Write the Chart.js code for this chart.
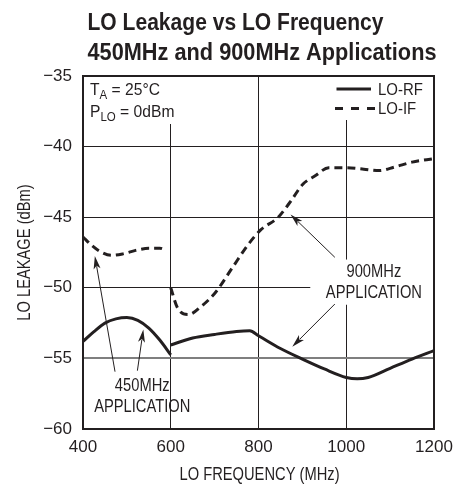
<!DOCTYPE html>
<html>
<head>
<meta charset="utf-8">
<script src="https://cdn.jsdelivr.net/npm/chart.js@4.4.1/dist/chart.umd.min.js"></script>
<style>
  html, body { margin: 0; padding: 0; background: #fff; }
  canvas { display: block; }
</style>
</head>
<body>
<canvas id="myChart" width="468" height="484"></canvas>
<script>
// LO-RF (solid) - 450MHz part and 900MHz part
const rfFreqLow = [400, 425, 450, 475, 500, 525, 550, 575, 600];
const rfLeakLow = [-53.8, -53.1, -52.5, -52.2, -52.1, -52.3, -52.85, -53.7, -54.75];
const rfFreqHigh = [600, 650, 700, 750, 780, 800, 850, 900, 950, 1000, 1025, 1050, 1100, 1150, 1200];
const rfLeakHigh = [-54.05, -53.55, -53.3, -53.1, -53.05, -53.4, -54.3, -55.05, -55.75, -56.35, -56.45, -56.35, -55.7, -55.05, -54.45];

// LO-IF (dashed)
const ifFreqLow = [400, 420, 440, 465, 490, 520, 550, 575, 590];
const ifLeakLow = [-46.4, -47.0, -47.45, -47.7, -47.6, -47.35, -47.2, -47.2, -47.35];
const ifFreqHigh = [600, 615, 640, 670, 700, 740, 775, 805, 845, 875, 900, 930, 960, 1000, 1040, 1075, 1110, 1150, 1200];
const ifLeakHigh = [-50.0, -51.4, -51.9, -51.3, -50.4, -48.6, -47.0, -45.9, -45.0, -43.8, -42.7, -42.05, -41.5, -41.5, -41.6, -41.7, -41.45, -41.1, -40.85];

const xTicks = [400, 600, 800, 1000, 1200];
const yTicks = [-60, -55, -50, -45, -40, -35];

const ink = "#231f20";
const sans = "'Liberation Sans', Arial, sans-serif";

const toPoints = (xs, ys) => xs.map((x, i) => ({ x: x, y: ys[i] }));
const minus = (v) => (v < 0 ? "\u2212" + Math.abs(v) : String(v));

// annotation positions, in data units
const notes = [
  { lines: ["450MHz", "APPLICATION"], x: 535, y: [-57.0, -58.46],
    box: [404, 590, -56.75, -59.0],
    arrows: [[473, -55.94, 427, -47.75], [524, -55.87, 537.5, -52.95]] },
  { lines: ["900MHz", "APPLICATION"], x: 1063, y: [-48.86, -50.35],
    box: [918, 1199, -48.0, -51.2],
    arrows: [[974, -47.84, 873, -44.8], [974, -51.15, 877, -54.17]] },
];

const drawArrow = (ctx, x1, y1, x2, y2) => {
  const ang = Math.atan2(y2 - y1, x2 - x1);
  const len = 13, half = 3.5;
  const c = Math.cos(ang), s = Math.sin(ang);
  ctx.beginPath();
  ctx.moveTo(x1, y1);
  ctx.lineTo(x2 - c * len * 0.8, y2 - s * len * 0.8);
  ctx.lineWidth = 1;
  ctx.strokeStyle = ink;
  ctx.stroke();
  ctx.beginPath();
  ctx.moveTo(x2, y2);
  ctx.lineTo(x2 - c * len - s * half, y2 - s * len + c * half);
  ctx.lineTo(x2 - c * len * 0.75, y2 - s * len * 0.75);
  ctx.lineTo(x2 - c * len + s * half, y2 - s * len - c * half);
  ctx.closePath();
  ctx.fillStyle = ink;
  ctx.fill();
};

// the original uses a condensed face; squeeze the text horizontally
const narrowText = (ctx, text, x, y, align, sx) => {
  sx = sx || 0.84;
  const w = ctx.measureText(text).width * sx;
  let x0 = x;
  if (align === "center") x0 = x - w / 2;
  if (align === "right") x0 = x - w;
  ctx.save();
  ctx.textAlign = "left";
  ctx.translate(x0, y);
  ctx.scale(sx, 1);
  ctx.fillText(text, 0, 0);
  ctx.restore();
  return w;
};

// draw text fitted to a given width
const fitText = (ctx, text, x, y, width) => {
  const w = ctx.measureText(text).width;
  ctx.save();
  ctx.translate(x, y);
  ctx.scale(width / w, 1);
  ctx.fillText(text, 0, 0);
  ctx.restore();
};

const decorations = {
  id: "decorations",
  beforeDatasetsDraw(chart) {
    const { ctx, chartArea: a, scales: { x, y } } = chart;
    ctx.save();
    ctx.fillStyle = "#fff";
    // boxes behind the text blocks
    ctx.fillRect(a.left, a.top, 104, 48);
    ctx.fillRect(a.right - 104, a.top, 104, 44);
    notes.forEach((n) => {
      const l = x.getPixelForValue(n.box[0]), r = x.getPixelForValue(n.box[1]);
      const t = y.getPixelForValue(n.box[2]), b = y.getPixelForValue(n.box[3]);
      ctx.fillRect(l, t, r - l, b - t);
    });
    ctx.restore();
  },
  afterDatasetsDraw(chart) {
    const { ctx, chartArea: a, scales: { x, y } } = chart;
    ctx.save();
    ctx.strokeStyle = ink;
    ctx.lineWidth = 2;
    ctx.strokeRect(a.left, a.top, a.right - a.left, a.bottom - a.top);

    ctx.fillStyle = ink;
    ctx.textBaseline = "alphabetic";

    // conditions
    const big = "17px " + sans, small = "12.5px " + sans, sx = 0.92;
    let cx = a.left + 7;
    ctx.font = big;
    cx += narrowText(ctx, "T", cx, a.top + 19, "left", sx);
    ctx.font = small;
    cx += narrowText(ctx, "A", cx, a.top + 23, "left", sx);
    ctx.font = big;
    narrowText(ctx, " = 25\u00b0C", cx, a.top + 19, "left", sx);

    cx = a.left + 7;
    cx += narrowText(ctx, "P", cx, a.top + 41, "left", sx);
    ctx.font = small;
    cx += narrowText(ctx, "LO", cx, a.top + 45, "left", sx);
    ctx.font = big;
    narrowText(ctx, " = 0dBm", cx, a.top + 41, "left", sx);

    // legend
    const lx = a.right - 99;
    ctx.lineWidth = 3;
    ctx.beginPath();
    ctx.moveTo(lx + 1.5, a.top + 13);
    ctx.lineTo(lx + 36, a.top + 13);
    ctx.stroke();
    ctx.setLineDash([8, 8]);
    ctx.beginPath();
    ctx.moveTo(lx, a.top + 32.5);
    ctx.lineTo(lx + 40, a.top + 32.5);
    ctx.stroke();
    ctx.setLineDash([]);
    ctx.font = big;
    narrowText(ctx, "LO-RF", lx + 43, a.top + 19, "left", 0.88);
    narrowText(ctx, "LO-IF", lx + 43, a.top + 38, "left", 0.88);

    // application notes
    ctx.textBaseline = "middle";
    ctx.font = "17.5px " + sans;
    notes.forEach((n) => {
      n.lines.forEach((t, i) => narrowText(ctx, t, x.getPixelForValue(n.x), y.getPixelForValue(n.y[i]), "center"));
      n.arrows.forEach((ar) => drawArrow(ctx,
        x.getPixelForValue(ar[0]), y.getPixelForValue(ar[1]),
        x.getPixelForValue(ar[2]), y.getPixelForValue(ar[3])));
    });
    ctx.restore();
  },
  afterDraw(chart) {
    const { ctx, chartArea: a } = chart;
    ctx.save();
    ctx.fillStyle = ink;
    ctx.textAlign = "left";
    ctx.textBaseline = "alphabetic";
    ctx.font = "bold 24px " + sans;
    fitText(ctx, "LO Leakage vs LO Frequency", 87.5, 30, 296);
    fitText(ctx, "450MHz and 900MHz Applications", 87.5, 59.5, 349);

    // axis titles
    ctx.textBaseline = "middle";
    ctx.font = "17.5px " + sans;
    narrowText(ctx, "LO FREQUENCY (MHz)", (a.left + a.right) / 2 + 1, 475, "center");
    ctx.translate(25, (a.top + a.bottom) / 2);
    ctx.rotate(-Math.PI / 2);
    narrowText(ctx, "LO LEAKAGE (dBm)", 0, 0, "center");
    ctx.restore();
  },
};

const lineStyle = (dashed) => ({
  borderColor: ink,
  borderWidth: 3,
  borderDash: dashed ? [8, 5] : [],
  pointRadius: 0,
  fill: false,
  cubicInterpolationMode: "monotone",
  borderCapStyle: "butt",
});

const ctx = document.getElementById("myChart").getContext("2d");
const myChart = new Chart(ctx, {
  type: "line",
  data: {
    datasets: [
      { label: "LO-RF", data: toPoints(rfFreqLow, rfLeakLow), ...lineStyle(false) },
      { label: "LO-RF", data: toPoints(rfFreqHigh, rfLeakHigh), ...lineStyle(false) },
      { label: "LO-IF", data: toPoints(ifFreqLow, ifLeakLow), ...lineStyle(true) },
      { label: "LO-IF", data: toPoints(ifFreqHigh, ifLeakHigh), ...lineStyle(true) },
    ],
  },
  options: {
    responsive: false,
    animation: false,
    devicePixelRatio: 1,
    layout: { padding: { left: 0, right: 34, top: 76, bottom: 0 } },
    plugins: { legend: { display: false }, tooltip: { enabled: false } },
    scales: {
      x: {
        type: "linear",
        min: 400,
        max: 1200,
        afterBuildTicks: (scale) => { scale.ticks = xTicks.map((v) => ({ value: v })); },
        afterFit: (scale) => { scale.height = 55; },
        ticks: { color: ink, font: { family: sans, size: 17 }, padding: 8, maxRotation: 0,
          callback: (v) => String(v) },
        grid: { color: ink, lineWidth: 1, drawTicks: false },
        border: { display: false },
      },
      y: {
        min: -60,
        max: -35,
        afterBuildTicks: (scale) => { scale.ticks = yTicks.map((v) => ({ value: v })); },
        afterFit: (scale) => { scale.width = 83; },
        ticks: { color: ink, font: { family: sans, size: 17 }, padding: 11, callback: (v) => minus(v) },
        grid: {
          color: (c) => (c.tick && c.tick.value === -55 ? "#7f7f7f" : ink),
          lineWidth: (c) => (c.tick && c.tick.value === -55 ? 2 : 1),
          drawTicks: false,
        },
        border: { display: false },
      },
    },
  },
  plugins: [decorations],
});
</script>
</body>
</html>
